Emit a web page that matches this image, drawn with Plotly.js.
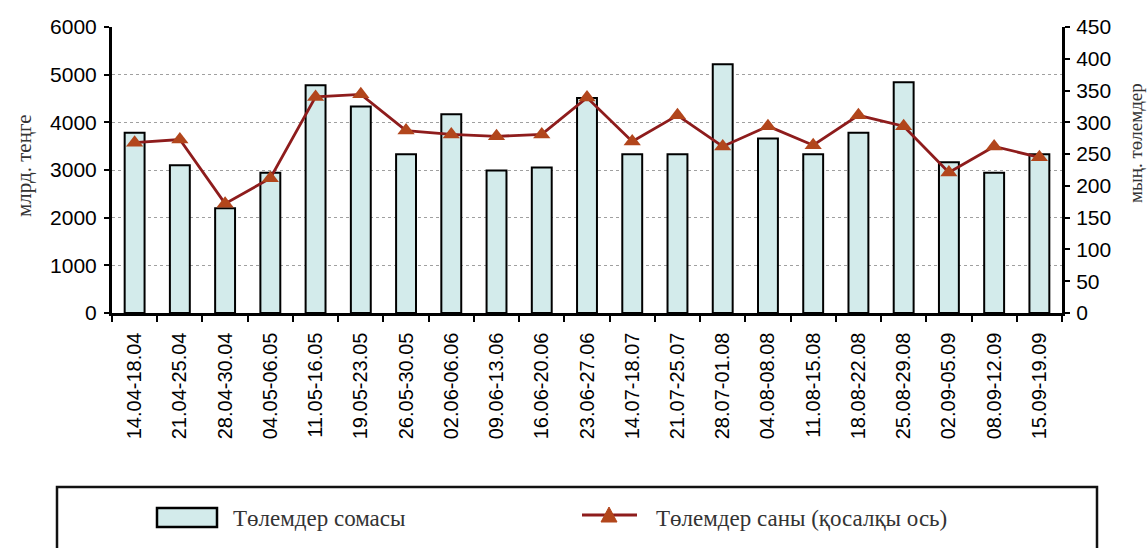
<!DOCTYPE html>
<html>
<head>
<meta charset="utf-8">
<script src="https://cdn.plot.ly/plotly-3.0.1.min.js"></script>
<style>
html,body{margin:0;padding:0;background:#fff;}
#chart{width:1148px;height:548px;}
</style>
</head>
<body>
<div id="chart"></div>
<script>
// Categories (weekly periods)
const periods = ["14.04-18.04","21.04-25.04","28.04-30.04","04.05-06.05","11.05-16.05","19.05-23.05","26.05-30.05","02.06-06.06","09.06-13.06","16.06-20.06","23.06-27.06","14.07-18.07","21.07-25.07","28.07-01.08","04.08-08.08","11.08-15.08","18.08-22.08","25.08-29.08","02.09-05.09","08.09-12.09","15.09-19.09"];
// Төлемдер сомасы (млрд. теңге)
const paymentSum = [3780,3100,2200,2940,4780,4330,3330,4170,2990,3050,4510,3330,3330,5220,3660,3330,3780,4840,3160,2940,3330];
// Төлемдер саны (мың. төлемдер), secondary axis
const paymentCount = [268,273,172,212,340,344,287,281,278,281,339,270,311,262,294,264,311,294,221,262,245];

const sumName = "Төлемдер сомасы";
const countName = "Төлемдер саны (қосалқы ось)";
const leftTitle = "млрд. теңге";
const rightTitle = "мың. төлемдер";

const barFill = "#d3ebeb";
const lineColor = "#8e1c1c";
const markerColor = "#b2461c";

const traces = [
  {
    type: "bar",
    name: sumName,
    x: periods,
    y: paymentSum,
    marker: {color: barFill, line: {color: "#000000", width: 2}},
    yaxis: "y",
    showlegend: false
  },
  {
    type: "scatter",
    mode: "lines+markers",
    name: countName,
    x: periods,
    y: paymentCount,
    yaxis: "y2",
    line: {color: lineColor, width: 2.8},
    marker: {symbol: "triangle-up", size: 15, color: markerColor},
    showlegend: false
  }
];

const sans = "Liberation Sans, Arial, sans-serif";
const serif = "Liberation Serif, Times New Roman, serif";

// pixel -> paper helpers (plot area: x 112..1062, y 27..313)
const L = 112, R = 86, T = 27, B = 235, W = 1148, H = 548;
const pw = W - L - R, ph = H - T - B;
const px = v => (v - L) / pw;
const py = v => (H - B - v) / ph;

// Legend geometry
const legY = 518;
const shapes = [
  {type: "rect", xref: "paper", yref: "paper",
   x0: px(57), x1: px(1097), y0: py(620), y1: py(487),
   line: {color: "#111111", width: 2.5}, fillcolor: "rgba(0,0,0,0)"},
  {type: "rect", xref: "paper", yref: "paper",
   x0: px(157), x1: px(217), y0: py(527), y1: py(508),
   line: {color: "#000000", width: 2.5}, fillcolor: barFill},
  {type: "line", xref: "paper", yref: "paper",
   x0: px(582), x1: px(637), y0: py(515), y1: py(515),
   line: {color: lineColor, width: 2.8}},
  {type: "path", xref: "paper", yref: "paper",
   path: `M${px(601)},${py(522)} L${px(617)},${py(522)} L${px(609)},${py(507)} Z`,
   line: {color: markerColor, width: 1}, fillcolor: markerColor}
];

const layout = {
  width: W,
  height: H,
  margin: {l: L, r: R, t: T, b: B},
  paper_bgcolor: "#ffffff",
  plot_bgcolor: "#ffffff",
  bargap: 0.56,
  showlegend: false,
  xaxis: {
    type: "category",
    range: [-0.5, periods.length - 0.5],
    tickangle: -90,
    tickson: "boundaries",
    ticks: "outside", ticklen: 6, tickwidth: 2, tickcolor: "#000",
    ticklabelstandoff: 9,
    showline: true, linecolor: "#000", linewidth: 2.5,
    showgrid: false,
    tickfont: {family: sans, size: 20, color: "#000"}
  },
  yaxis: {
    range: [0, 6000],
    dtick: 1000,
    ticks: "outside", ticklen: 5, tickwidth: 2, tickcolor: "#000",
    ticklabelstandoff: 3,
    showline: true, linecolor: "#000", linewidth: 3,
    showgrid: true, gridcolor: "#a0a0a0", gridwidth: 1, griddash: "dot",
    zeroline: false,
    tickfont: {family: sans, size: 21, color: "#000"}
  },
  yaxis2: {
    overlaying: "y",
    side: "right",
    range: [0, 450],
    dtick: 50,
    ticks: "outside", ticklen: 5, tickwidth: 2, tickcolor: "#000",
    ticklabelstandoff: 2,
    showline: true, linecolor: "#000", linewidth: 3,
    showgrid: false, zeroline: false,
    tickfont: {family: sans, size: 21, color: "#000"}
  },
  annotations: [
    {text: leftTitle, xref: "paper", yref: "paper", x: px(24), y: py(166),
     xanchor: "center", yanchor: "middle", textangle: -90, showarrow: false,
     font: {family: serif, size: 21, color: "#333333"}},
    {text: rightTitle, xref: "paper", yref: "paper", x: px(1135), y: py(143),
     xanchor: "center", yanchor: "middle", textangle: -90, showarrow: false,
     font: {family: serif, size: 19, color: "#333333"}},
    {text: sumName, xref: "paper", yref: "paper", x: px(231), y: py(legY),
     xanchor: "left", yanchor: "middle", showarrow: false,
     font: {family: serif, size: 23, color: "#333333"}},
    {text: countName, xref: "paper", yref: "paper", x: px(654), y: py(legY),
     xanchor: "left", yanchor: "middle", showarrow: false,
     font: {family: serif, size: 23, color: "#333333"}}
  ],
  shapes: shapes
};

Plotly.newPlot("chart", traces, layout, {displayModeBar: false, staticPlot: true});
</script>
</body>
</html>
